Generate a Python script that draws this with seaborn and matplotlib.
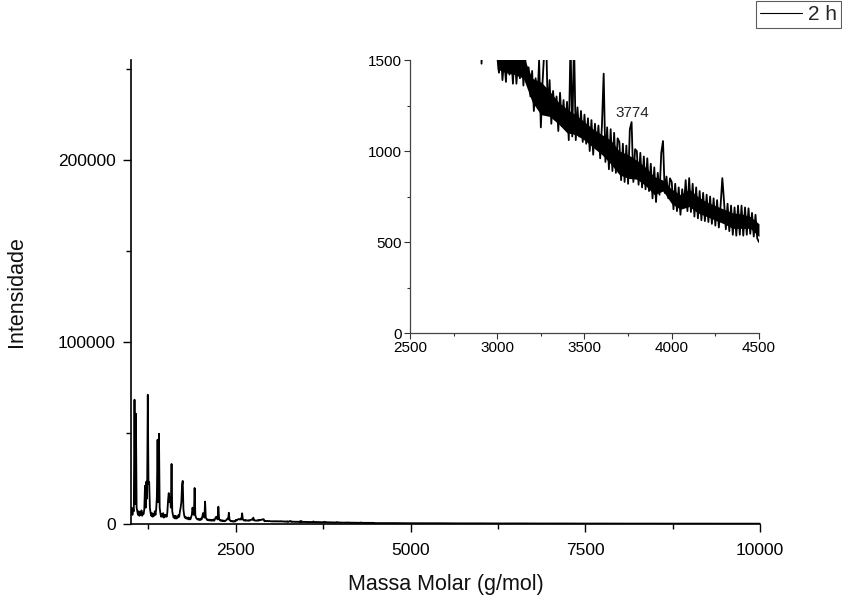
import numpy as np
import pandas as pd
import matplotlib
matplotlib.use("Agg")
import matplotlib.pyplot as plt
import seaborn as sns

# --- Spectrum values ---
# low-mass part, 1000-2890 g/mol every 10 g/mol (peaks included)
low_mass = list(range(1000, 2900, 10))
low_int = [
    6000, 9000, 5000, 8000, 7000, 68300, 11000, 60600, 9000, 7000,
    5000, 7000, 4500, 6500, 5000, 7500, 4500, 6000, 5500, 8000,
    21000, 9000, 23300, 14000, 71000, 22000, 23000, 9000, 6000, 4500,
    6000, 4000, 5500, 4500, 7000, 5000, 8000, 15000, 46300, 12000,
    49600, 9000, 6000, 4000, 5500, 4000, 6000, 3500, 5000, 4000,
    5000, 4000, 6500, 13000, 17000, 12000, 15000, 9000, 33000, 7000,
    5000, 3500, 4500, 3000, 4500, 3000, 4000, 3500, 5000, 4000,
    7000, 9000, 12000, 21500, 23700, 8000, 5000, 3500, 4000, 3000,
    3500, 2800, 3600, 2500, 3200, 2600, 3800, 5000, 9000, 6000,
    5000, 19800, 5000, 3500, 3000, 2500, 2800, 2300, 2700, 2200,
    3000, 2500, 4000, 6000, 5000, 3500, 12300, 3500, 2800, 2200,
    2500, 2000, 2400, 1900, 2300, 1800, 2200, 1900, 2500, 1800,
    2500, 3500, 4000, 3000, 2500, 9500, 3000, 2200, 1800, 2100,
    1700, 2000, 1600, 1900, 1500, 1800, 2000, 2500, 3000, 2500,
    6200, 2500, 1800, 1500, 1700, 1400, 1600, 1300, 1500, 1400,
    2300, 1900, 2200, 2500, 2800, 2600, 2400, 3000, 2500, 5900,
    2600, 2100, 1900, 2200, 1800, 2100, 1900, 2000, 1800, 2100,
    1900, 2200, 2400, 2600, 2300, 3500, 2100, 1900, 2000, 1800,
    1900, 2100, 1800, 2200, 2000, 2300, 2200, 2500, 2400, 2600,
]

# zoomed part, 2900-4500 g/mol every 10 g/mol
mid_mass = list(range(2900, 4510, 10))
mid_int = [
    2600, 1480, 1700, 1650, 1580, 1720, 1600, 1560, 1680, 1540,
    1520, 1430, 1560, 1390, 1510, 1380, 1600, 1420, 1530, 1370,
    1560, 1370, 1500, 1400, 1580, 1360, 1520, 1380, 1460, 1300,
    1440, 1220, 1400, 1260, 1500, 1130, 1380, 1560, 1650, 1200,
    1390, 1150, 1330, 1190, 1300, 1110, 1320, 1140, 1280, 1120,
    1270, 1060, 1600, 1080, 1620, 1060, 1240, 1080, 1220, 1050,
    1200, 1040, 1180, 1000, 1170, 980, 1150, 1010, 1140, 960,
    1140, 1425, 940, 1130, 900, 1120, 890, 1100, 880, 1070,
    1050, 840, 1040, 830, 1030, 820, 1120, 1159, 830, 1010,
    1000, 815, 990, 800, 970, 790, 960, 780, 930, 740,
    910, 720, 880, 760, 990, 1055, 770, 860, 740, 850,
    830, 680, 820, 670, 800, 650, 790, 700, 840, 670,
    851, 665, 820, 640, 800, 630, 780, 620, 770, 615,
    760, 610, 750, 600, 740, 590, 730, 580, 700, 851,
    720, 570, 710, 560, 700, 540, 690, 535, 700, 540,
    700, 535, 690, 540, 685, 545, 660, 530, 650, 520,
    500,
]

# high-mass tail, 4600-10000 g/mol every 100 g/mol
tail_mass = list(range(4600, 10100, 100))
tail_int = [
    520, 480, 500, 450, 470, 430, 440, 400, 420, 380,
    400, 360, 380, 340, 360, 330, 350, 310, 330, 300,
    320, 290, 300, 280, 300, 270, 290, 260, 280, 250,
    270, 250, 260, 240, 260, 230, 250, 230, 240, 220,
    240, 220, 230, 210, 230, 210, 220, 200, 220, 200,
    210, 200, 210, 190, 200,
]

# dense core of the noise band in the zoomed view (read every 50 g/mol)
band_mass = list(range(3000, 4550, 50))
band_top = [
    1560, 1560, 1540, 1520, 1400, 1380, 1330, 1270, 1230, 1200,
    1160, 1120, 1090, 1060, 1000, 980, 950, 910, 860, 840,
    790, 760, 790, 750, 720, 700, 680, 660, 655, 640, 600,
]
band_bottom = [
    1450, 1430, 1420, 1400, 1270, 1200, 1190, 1150, 1100, 1090,
    1060, 1020, 980, 930, 870, 850, 845, 810, 760, 780,
    710, 680, 695, 660, 640, 620, 600, 575, 575, 575, 530,
]

main_xticks = [2500, 5000, 7500, 10000]
main_yticks = [0, 100000, 200000]
inset_xticks = [2500, 3000, 3500, 4000, 4500]
inset_yticks = [0, 500, 1000, 1500]
peak_label = "3774"
peak_label_pos = (3774, 1210)

df = pd.DataFrame({
    "mass": low_mass + mid_mass + tail_mass,
    "intensity": low_int + mid_int + tail_int,
})

sns.set_theme(style="ticks")
plt.rcParams["font.family"] = ["Liberation Sans", "DejaVu Sans"]

fig = plt.figure(figsize=(8.42, 6.01), dpi=100)
ax = fig.add_axes([0.1556, 0.1281, 0.7470, 0.7721])

sns.lineplot(data=df, x="mass", y="intensity", ax=ax, color="black",
             lw=1.3, estimator=None, sort=False, label="2 h")

ax.set_xlim(1000, 10000)
ax.set_ylim(0, 255000)
ax.set_xticks(main_xticks)
ax.set_xticks([1250, 3750, 6250, 8750], minor=True)
ax.set_yticks(main_yticks)
ax.set_yticks([50000, 150000, 250000], minor=True)
ax.set_xticklabels([str(t) for t in main_xticks])
ax.set_yticklabels([str(t) for t in main_yticks])
ax.tick_params(axis="both", which="major", direction="out", length=6,
               width=1.0, labelsize=12.5, colors="black", pad=5)
ax.tick_params(axis="x", which="major", pad=8)
ax.tick_params(axis="both", which="minor", direction="out", length=3.3,
               width=1.0, colors="black")
for side in ["top", "right"]:
    ax.spines[side].set_visible(False)
for side in ["left", "bottom"]:
    ax.spines[side].set_linewidth(1.2)
    ax.spines[side].set_color("black")
ax.set_xlabel("Massa Molar (g/mol)", fontsize=15.5, labelpad=11, color="#111111")
ax.set_ylabel("Intensidade", fontsize=15.5, labelpad=22, color="#111111")

leg = ax.legend(loc="upper right", bbox_to_anchor=(841 / 842, 600 / 601),
                bbox_transform=fig.transFigure, fontsize=15, frameon=True,
                fancybox=False, handlelength=2.0, handletextpad=0.3,
                borderpad=0.2, borderaxespad=0.0)
leg.get_frame().set_edgecolor("#333333")
leg.get_frame().set_linewidth(0.8)
for line in leg.get_lines():
    line.set_linewidth(0.8)

# --- inset ---
ax_in = fig.add_axes([0.4869, 0.4459, 0.4145, 0.4542])
ax_in.fill_between(band_mass, band_bottom, band_top, color="black", lw=0)
sns.lineplot(data=df, x="mass", y="intensity", ax=ax_in, color="black",
             lw=1.3, estimator=None, sort=False, legend=False)
ax_in.set_xlim(2500, 4500)
ax_in.set_ylim(0, 1500)
ax_in.set_xticks(inset_xticks)
ax_in.set_xticks([2750, 3250, 3750, 4250], minor=True)
ax_in.set_yticks(inset_yticks)
ax_in.set_yticks([250, 750, 1250], minor=True)
ax_in.tick_params(axis="both", which="major", direction="out", length=4,
                  width=0.8, labelsize=11, colors="#333333", pad=2)
ax_in.tick_params(axis="both", which="minor", direction="out", length=2.5,
                  width=0.8, colors="#333333")
for lab in ax_in.get_xticklabels() + ax_in.get_yticklabels():
    lab.set_color("black")
for side in ["top", "right"]:
    ax_in.spines[side].set_visible(False)
for side in ["left", "bottom"]:
    ax_in.spines[side].set_linewidth(0.9)
    ax_in.spines[side].set_color("#444444")
ax_in.set_xlabel("")
ax_in.set_ylabel("")
ax_in.patch.set_alpha(0.0)
ax_in.text(peak_label_pos[0], peak_label_pos[1], peak_label, fontsize=11,
           ha="center", va="center", color="#222222")

fig.savefig("out.png", dpi=100)
